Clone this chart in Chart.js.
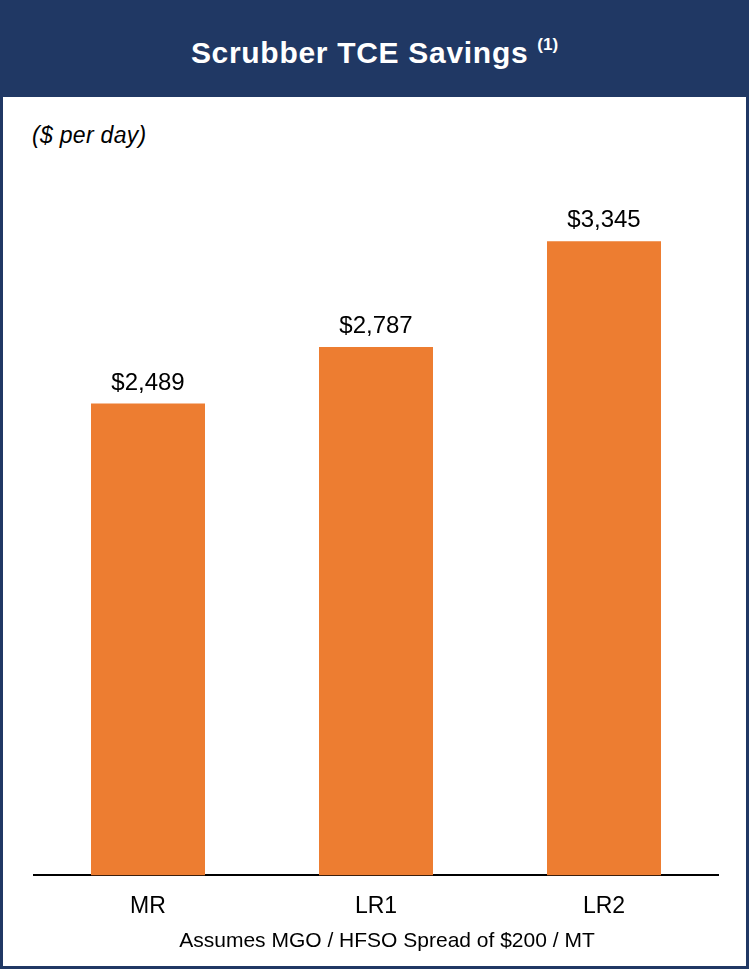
<!DOCTYPE html>
<html>
<head>
<meta charset="utf-8">
<script src="https://cdn.jsdelivr.net/npm/chart.js@4/dist/chart.umd.min.js"></script>
<style>
  html, body { margin: 0; padding: 0; background: #fff; }
  .panel {
    position: relative;
    width: 749px;
    height: 969px;
    box-sizing: border-box;
    border: 3px solid #203864;
    font-family: Arial, "Liberation Sans", sans-serif;
  }
  .header {
    height: 94px;
    background: #203864;
    color: #fff;
    font-weight: bold;
    font-size: 30px;
    letter-spacing: 0.7px;
    text-align: center;
    line-height: 88px;
  }
  .header sup {
    font-size: 17px;
    letter-spacing: 0;
    position: relative;
    top: -2px;
  }
  .unit {
    position: absolute;
    left: 29px;
    top: 119px;
    font-size: 23px;
    letter-spacing: 0.3px;
    font-style: italic;
    color: #000;
  }
  .note {
    position: absolute;
    left: 0;
    width: 768px;
    top: 925px;
    text-align: center;
    font-size: 21px;
    color: #000;
  }
  .chart-box {
    position: absolute;
    left: 0;
    top: 94px;
    width: 743px;
    height: 869px;
  }
</style>
</head>
<body>
<div class="panel">
  <div class="header">Scrubber TCE Savings <sup>(1)</sup></div>
  <div class="unit">($ per day)</div>
  <div class="chart-box"><canvas id="savingsChart"></canvas></div>
  <div class="note">Assumes MGO / HFSO Spread of $200 / MT</div>
</div>
<script>
const vesselClasses = ['MR', 'LR1', 'LR2'];
const tceSavings = [2489, 2787, 3345];

// value labels above each bar
const barLabels = {
  id: 'barLabels',
  afterDatasetsDraw(chart) {
    const { ctx } = chart;
    const meta = chart.getDatasetMeta(0);
    ctx.save();
    ctx.font = '24px Arial, "Liberation Sans", sans-serif';
    ctx.fillStyle = '#000';
    ctx.textAlign = 'center';
    ctx.textBaseline = 'alphabetic';
    meta.data.forEach((bar, i) => {
      const txt = '$' + tceSavings[i].toLocaleString('en-US');
      ctx.fillText(txt, bar.x, bar.y - 14);
    });
    ctx.restore();
  }
};

new Chart(document.getElementById('savingsChart'), {
  type: 'bar',
  data: {
    labels: vesselClasses,
    datasets: [{
      data: tceSavings,
      backgroundColor: '#ED7D31',
      categoryPercentage: 1,
      barPercentage: 0.5,
    }]
  },
  options: {
    responsive: true,
    maintainAspectRatio: false,
    animation: false,
    layout: {
      padding: { top: 77, left: 31, right: 28, bottom: 29 }
    },
    scales: {
      y: {
        display: false,
        min: 0,
        max: 3700,
      },
      x: {
        grid: { display: false, drawTicks: false },
        border: { display: true, color: '#000', width: 2 },
        ticks: {
          color: '#000',
          padding: 17,
          font: { family: 'Arial, "Liberation Sans", sans-serif', size: 23 },
        }
      }
    },
    plugins: {
      legend: { display: false },
      tooltip: { enabled: false },
    }
  },
  plugins: [barLabels]
});
</script>
</body>
</html>
